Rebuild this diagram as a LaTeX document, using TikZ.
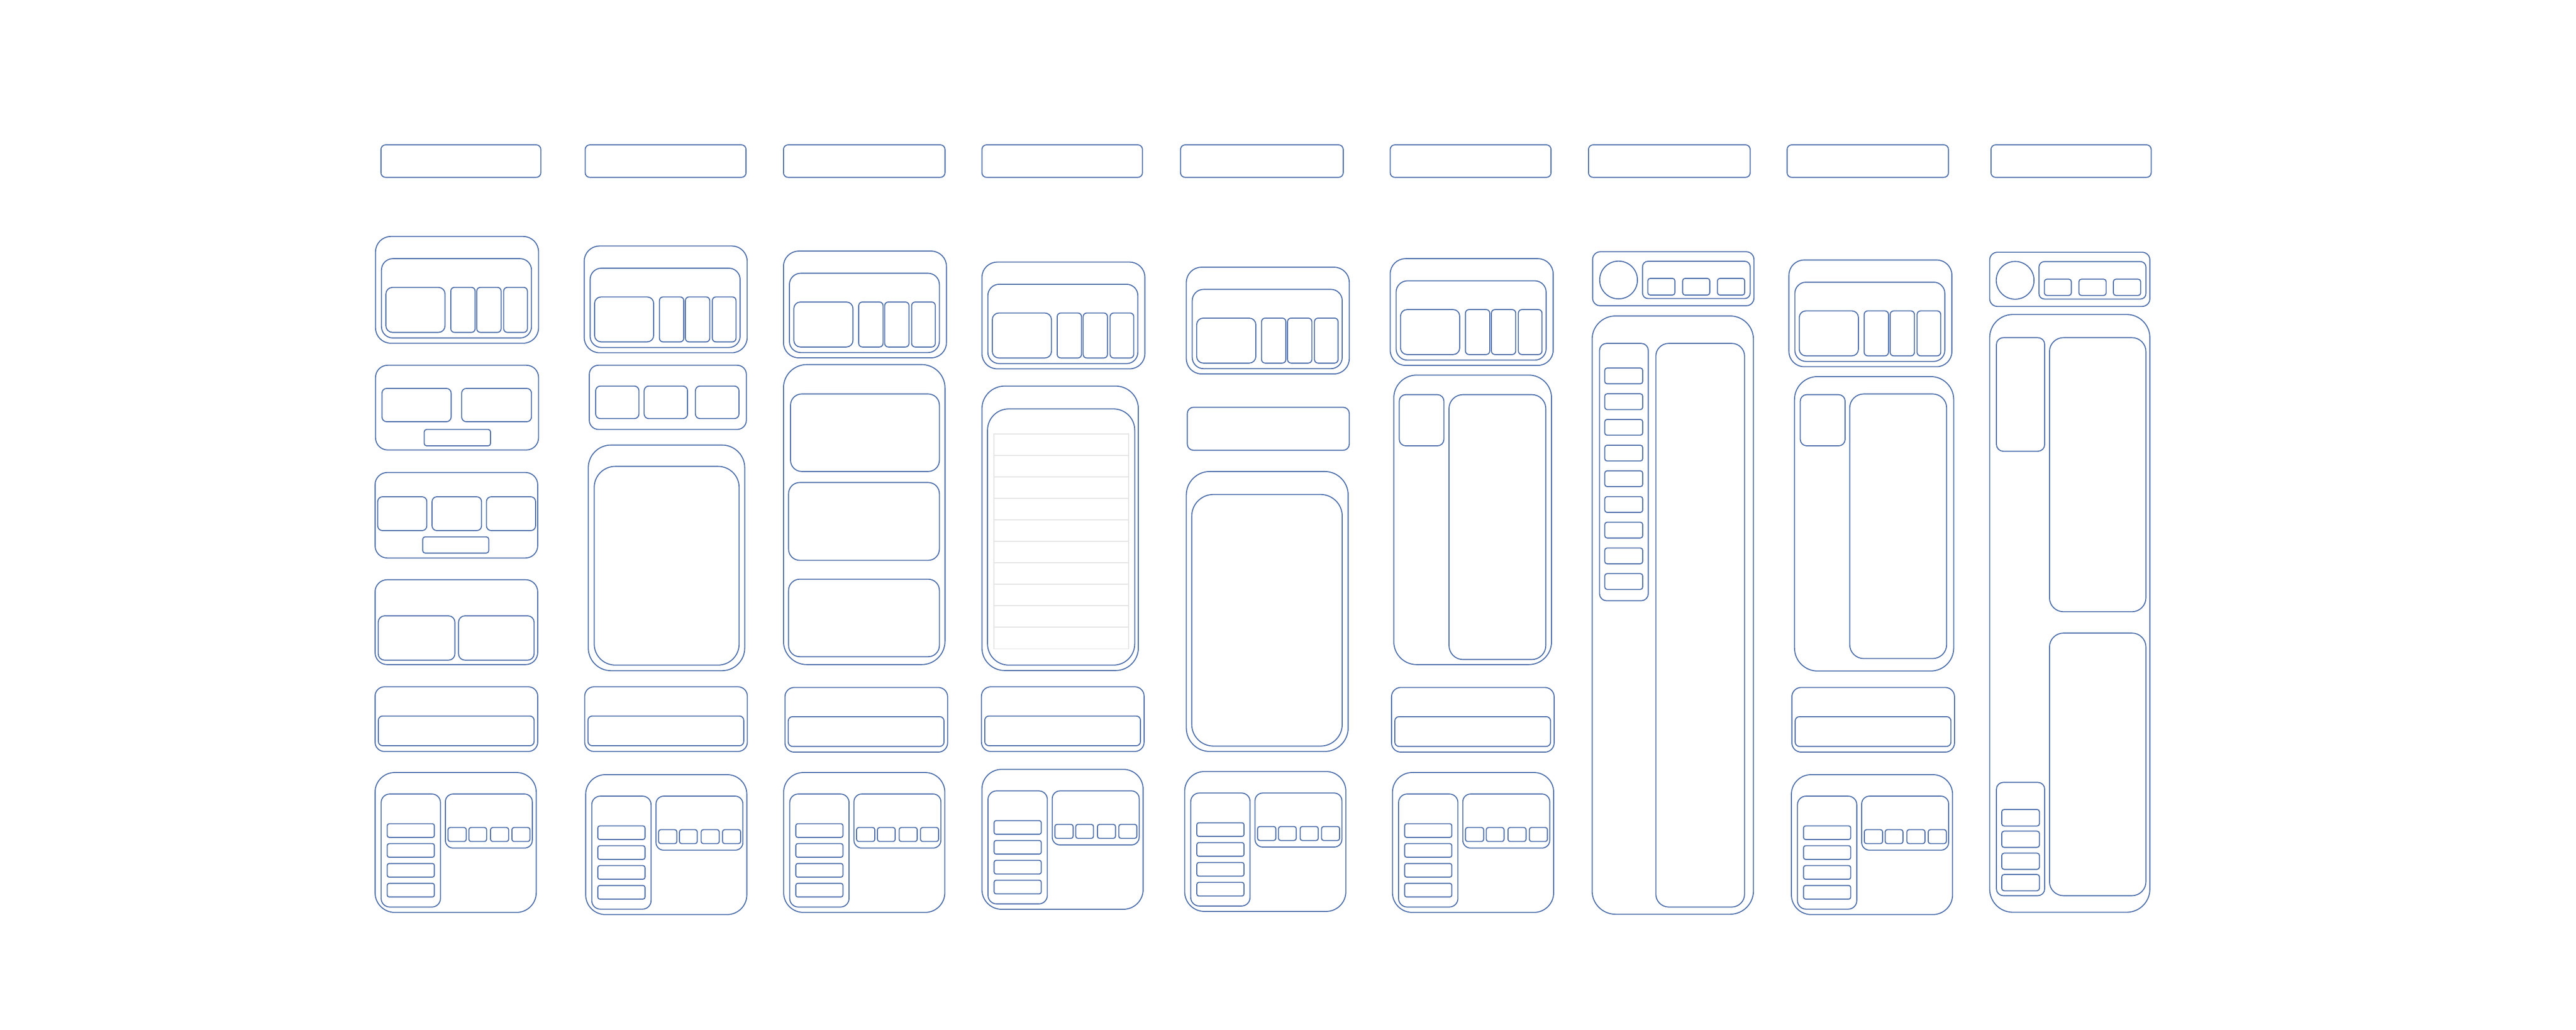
\documentclass[tikz,border=0pt]{standalone}
\definecolor{wireblue}{RGB}{72,106,168}
\definecolor{rowgray}{RGB}{228,228,228}
\begin{document}
\begin{tikzpicture}[x=1bp, y=-1bp,
  box/.style={draw=wireblue, line width=.6pt, rounded corners=#1bp},
  box/.default=2,
  row/.style={draw=rowgray, line width=.6pt}]
\useasboundingbox (0,0) rectangle (1568,627.2);

%%%%%% Top bars %%%%%%%

\draw[box=2.8] (231.9,88.2) rectangle (329.2,108);
\draw[box=2.8] (356.2,88.2) rectangle (454.1,108);
\draw[box=2.8] (476.9,88.2) rectangle (575.2,108);
\draw[box=2.8] (597.7,88.2) rectangle (695.4,108);
\draw[box=2.8] (718.6,88.2) rectangle (817.6,108);
\draw[box=2.8] (846.2,88.2) rectangle (944.1,108);
\draw[box=2.8] (966.9,88.2) rectangle (1065.3,108);
\draw[box=2.8] (1087.8,88.2) rectangle (1186,108);
\draw[box=2.8] (1211.9,88.2) rectangle (1309.4,108);

%%%%%% Column 1 %%%%%%%

\draw[box=9.3] (228.6,144) rectangle (327.8,209);
\draw[box=6.9] (232.2,157.5) rectangle (323.5,205.8);
\draw[box=4] (234.9,175) rectangle (270.9,202.4);
\draw[box=2.2] (274.4,175) rectangle (289.2,202.4);
\draw[box=2.2] (290.2,175) rectangle (305,202.4);
\draw[box=2.2] (306.6,175) rectangle (321,202.4);

\draw[box=7.4] (228.6,222.4) rectangle (327.8,274);
\draw[box=2.9] (232.5,236.5) rectangle (274.6,256.8);
\draw[box=2.9] (281,236.5) rectangle (323.5,256.8);
\draw[box=1.5] (258.2,261.5) rectangle (298.6,271.5);

\draw[box=7.5] (228.3,287.7) rectangle (327.3,339.8);
\draw[box=2.9] (229.9,302.5) rectangle (259.8,323.1);
\draw[box=2.9] (263,302.5) rectangle (293.1,323.1);
\draw[box=2.9] (296.1,302.5) rectangle (326,323.1);
\draw[box=1.5] (257.3,326.9) rectangle (297.5,336.8);

\draw[box=7.4] (228.3,353) rectangle (327.3,404.7);
\draw[box=3.9] (230.2,375) rectangle (276.9,402);
\draw[box=3.9] (279.1,375) rectangle (325.1,402);

\draw[box=5.7] (228.3,418.2) rectangle (327.3,457.6);
\draw[box=2.6] (230.3,436) rectangle (325.1,454.1);

\draw[box=12] (228.3,470.4) rectangle (326.4,555.6);
\draw[box=5.2] (232,483.5) rectangle (268.1,552.3);
\draw[box=1.2] (235.7,501.6) rectangle (264.4,509.9);
\draw[box=1.2] (235.7,513.7) rectangle (264.4,522);
\draw[box=1.2] (235.7,525.8) rectangle (264.4,534.1);
\draw[box=1.2] (235.7,537.9) rectangle (264.4,546.2);
\draw[box=4.7] (271.1,483.5) rectangle (324,516.4);
\draw[box=1.3] (272.7,503.9) rectangle (283.8,512.4);
\draw[box=1.3] (285.4,503.9) rectangle (296.2,512.4);
\draw[box=1.3] (298.6,503.9) rectangle (309.6,512.4);
\draw[box=1.3] (311.6,503.9) rectangle (322.6,512.4);

%%%%%% Column 2 %%%%%%%

\draw[box=9.3] (228.6+127,144+5.8) rectangle (327.8+127,209+5.8);
\draw[box=6.9] (232.2+127,157.5+5.8) rectangle (323.5+127,205.8+5.8);
\draw[box=4] (234.9+127,175+5.8) rectangle (270.9+127,202.4+5.8);
\draw[box=2.2] (274.4+127,175+5.8) rectangle (289.2+127,202.4+5.8);
\draw[box=2.2] (290.2+127,175+5.8) rectangle (305+127,202.4+5.8);
\draw[box=2.2] (306.6+127,175+5.8) rectangle (321+127,202.4+5.8);

\draw[box=5.6] (358.7,222.4) rectangle (454.3,261.5);
\draw[box=2.8] (362.6,235.1) rectangle (388.9,254.9);
\draw[box=2.8] (392.1,235.1) rectangle (418.5,254.9);
\draw[box=2.8] (423.3,235.1) rectangle (449.8,254.9);

\draw[box=13.8] (358.1,271) rectangle (453.3,408.4);
\draw[box=12.8] (361.7,284) rectangle (449.9,405);

\draw[box=5.7] (228.3+127.6,418.2) rectangle (327.3+127.6,457.6);
\draw[box=2.6] (230.3+127.6,436) rectangle (325.1+127.6,454.1);

\draw[box=12] (228.3+128.2,470.4+1.3) rectangle (326.4+128.2,555.6+1.3);
\draw[box=5.2] (232+128.2,483.5+1.3) rectangle (268.1+128.2,552.3+1.3);
\draw[box=1.2] (235.7+128.2,501.6+1.3) rectangle (264.4+128.2,509.9+1.3);
\draw[box=1.2] (235.7+128.2,513.7+1.3) rectangle (264.4+128.2,522+1.3);
\draw[box=1.2] (235.7+128.2,525.8+1.3) rectangle (264.4+128.2,534.1+1.3);
\draw[box=1.2] (235.7+128.2,537.9+1.3) rectangle (264.4+128.2,546.2+1.3);
\draw[box=4.7] (271.1+128.2,483.5+1.3) rectangle (324+128.2,516.4+1.3);
\draw[box=1.3] (272.7+128.2,503.9+1.3) rectangle (283.8+128.2,512.4+1.3);
\draw[box=1.3] (285.4+128.2,503.9+1.3) rectangle (296.2+128.2,512.4+1.3);
\draw[box=1.3] (298.6+128.2,503.9+1.3) rectangle (309.6+128.2,512.4+1.3);
\draw[box=1.3] (311.6+128.2,503.9+1.3) rectangle (322.6+128.2,512.4+1.3);

%%%%%% Column 3 %%%%%%%

\draw[box=9.3] (228.6+248.3,144+8.9) rectangle (327.8+248.3,209+8.9);
\draw[box=6.9] (232.2+248.3,157.5+8.9) rectangle (323.5+248.3,205.8+8.9);
\draw[box=4] (234.9+248.3,175+8.9) rectangle (270.9+248.3,202.4+8.9);
\draw[box=2.2] (274.4+248.3,175+8.9) rectangle (289.2+248.3,202.4+8.9);
\draw[box=2.2] (290.2+248.3,175+8.9) rectangle (305+248.3,202.4+8.9);
\draw[box=2.2] (306.6+248.3,175+8.9) rectangle (321+248.3,202.4+8.9);

\draw[box=14.2] (476.9,222) rectangle (575.2,404.7);
\draw[box=6.8] (481.2,239.9) rectangle (571.8,287.1);
\draw[box=6.8] (480,293.8) rectangle (571.8,341.2);
\draw[box=6.8] (480,352.7) rectangle (571.8,399.9);

\draw[box=5.7] (228.3+249.5,418.2+.4) rectangle (327.3+249.5,457.6+.4);
\draw[box=2.6] (230.3+249.5,436+.4) rectangle (325.1+249.5,454.1+.4);

\draw[box=12] (228.3+248.7,470.4) rectangle (326.4+248.7,555.6);
\draw[box=5.2] (232+248.7,483.5) rectangle (268.1+248.7,552.3);
\draw[box=1.2] (235.7+248.7,501.6) rectangle (264.4+248.7,509.9);
\draw[box=1.2] (235.7+248.7,513.7) rectangle (264.4+248.7,522);
\draw[box=1.2] (235.7+248.7,525.8) rectangle (264.4+248.7,534.1);
\draw[box=1.2] (235.7+248.7,537.9) rectangle (264.4+248.7,546.2);
\draw[box=4.7] (271.1+248.7,483.5) rectangle (324+248.7,516.4);
\draw[box=1.3] (272.7+248.7,503.9) rectangle (283.8+248.7,512.4);
\draw[box=1.3] (285.4+248.7,503.9) rectangle (296.2+248.7,512.4);
\draw[box=1.3] (298.6+248.7,503.9) rectangle (309.6+248.7,512.4);
\draw[box=1.3] (311.6+248.7,503.9) rectangle (322.6+248.7,512.4);

%%%%%% Column 4 %%%%%%%

\draw[box=9.3] (228.6+369.1,144+15.6) rectangle (327.8+369.1,209+15.6);
\draw[box=6.9] (232.2+369.1,157.5+15.6) rectangle (323.5+369.1,205.8+15.6);
\draw[box=4] (234.9+369.1,175+15.6) rectangle (270.9+369.1,202.4+15.6);
\draw[box=2.2] (274.4+369.1,175+15.6) rectangle (289.2+369.1,202.4+15.6);
\draw[box=2.2] (290.2+369.1,175+15.6) rectangle (305+369.1,202.4+15.6);
\draw[box=2.2] (306.6+369.1,175+15.6) rectangle (321+369.1,202.4+15.6);

\draw[box=13.8] (597.7,235.1) rectangle (692.9,408.3);
\draw[box=12.9] (601.1,249) rectangle (690.7,405);
\draw[row] (605.1,264.2) rectangle (686.9,395.1);
\draw[row] (605.1,277.3) -- (686.9,277.3);
\draw[row] (605.1,290.4) -- (686.9,290.4);
\draw[row] (605.1,303.5) -- (686.9,303.5);
\draw[row] (605.1,316.6) -- (686.9,316.6);
\draw[row] (605.1,329.7) -- (686.9,329.7);
\draw[row] (605.1,342.7) -- (686.9,342.7);
\draw[row] (605.1,355.8) -- (686.9,355.8);
\draw[row] (605.1,368.9) -- (686.9,368.9);
\draw[row] (605.1,382) -- (686.9,382);

\draw[box=5.7] (228.3+369.1,418.2) rectangle (327.3+369.1,457.6);
\draw[box=2.6] (230.3+369.1,436) rectangle (325.1+369.1,454.1);

\draw[box=12] (228.3+369.4,470.4-1.9) rectangle (326.4+369.4,555.6-1.9);
\draw[box=5.2] (232+369.4,483.5-1.9) rectangle (268.1+369.4,552.3-1.9);
\draw[box=1.2] (235.7+369.4,501.6-1.9) rectangle (264.4+369.4,509.9-1.9);
\draw[box=1.2] (235.7+369.4,513.7-1.9) rectangle (264.4+369.4,522-1.9);
\draw[box=1.2] (235.7+369.4,525.8-1.9) rectangle (264.4+369.4,534.1-1.9);
\draw[box=1.2] (235.7+369.4,537.9-1.9) rectangle (264.4+369.4,546.2-1.9);
\draw[box=4.7] (271.1+369.4,483.5-1.9) rectangle (324+369.4,516.4-1.9);
\draw[box=1.3] (272.7+369.4,503.9-1.9) rectangle (283.8+369.4,512.4-1.9);
\draw[box=1.3] (285.4+369.4,503.9-1.9) rectangle (296.2+369.4,512.4-1.9);
\draw[box=1.3] (298.6+369.4,503.9-1.9) rectangle (309.6+369.4,512.4-1.9);
\draw[box=1.3] (311.6+369.4,503.9-1.9) rectangle (322.6+369.4,512.4-1.9);

%%%%%% Column 5 %%%%%%%

\draw[box=9.3] (228.6+493.5,144+18.7) rectangle (327.8+493.5,209+18.7);
\draw[box=6.9] (232.2+493.5,157.5+18.7) rectangle (323.5+493.5,205.8+18.7);
\draw[box=4] (234.9+493.5,175+18.7) rectangle (270.9+493.5,202.4+18.7);
\draw[box=2.2] (274.4+493.5,175+18.7) rectangle (289.2+493.5,202.4+18.7);
\draw[box=2.2] (290.2+493.5,175+18.7) rectangle (305+493.5,202.4+18.7);
\draw[box=2.2] (306.6+493.5,175+18.7) rectangle (321+493.5,202.4+18.7);

\draw[box=3.8] (722.7,248) rectangle (821.3,274.2);

\draw[box=14.3] (722.1,287.1) rectangle (820.6,457.6);
\draw[box=13.2] (725.4,301.1) rectangle (817,454.3);

\draw[box=12] (228.3+492.8,470.4-.6) rectangle (326.4+492.8,555.6-.6);
\draw[box=5.2] (232+492.8,483.5-.6) rectangle (268.1+492.8,552.3-.6);
\draw[box=1.2] (235.7+492.8,501.6-.6) rectangle (264.4+492.8,509.9-.6);
\draw[box=1.2] (235.7+492.8,513.7-.6) rectangle (264.4+492.8,522-.6);
\draw[box=1.2] (235.7+492.8,525.8-.6) rectangle (264.4+492.8,534.1-.6);
\draw[box=1.2] (235.7+492.8,537.9-.6) rectangle (264.4+492.8,546.2-.6);
\draw[box=4.7] (271.1+492.8,483.5-.6) rectangle (324+492.8,516.4-.6);
\draw[box=1.3] (272.7+492.8,503.9-.6) rectangle (283.8+492.8,512.4-.6);
\draw[box=1.3] (285.4+492.8,503.9-.6) rectangle (296.2+492.8,512.4-.6);
\draw[box=1.3] (298.6+492.8,503.9-.6) rectangle (309.6+492.8,512.4-.6);
\draw[box=1.3] (311.6+492.8,503.9-.6) rectangle (322.6+492.8,512.4-.6);

%%%%%% Column 6 %%%%%%%

\draw[box=9.3] (228.6+617.6,144+13.5) rectangle (327.8+617.6,209+13.5);
\draw[box=6.9] (232.2+617.6,157.5+13.5) rectangle (323.5+617.6,205.8+13.5);
\draw[box=4] (234.9+617.6,175+13.5) rectangle (270.9+617.6,202.4+13.5);
\draw[box=2.2] (274.4+617.6,175+13.5) rectangle (289.2+617.6,202.4+13.5);
\draw[box=2.2] (290.2+617.6,175+13.5) rectangle (305+617.6,202.4+13.5);
\draw[box=2.2] (306.6+617.6,175+13.5) rectangle (321+617.6,202.4+13.5);

\draw[box=13.9] (848.4,228.4) rectangle (944.4,404.7);
\draw[box=4] (851.7,240.3) rectangle (878.9,271.5);
\draw[box=8.5] (882,240.3) rectangle (940.9,401.6);

\draw[box=5.7] (228.3+618.7,418.2+.4) rectangle (327.3+618.7,457.6+.4);
\draw[box=2.6] (230.3+618.7,436+.4) rectangle (325.1+618.7,454.1+.4);

\draw[box=12] (228.3+619.3,470.4) rectangle (326.4+619.3,555.6);
\draw[box=5.2] (232+619.3,483.5) rectangle (268.1+619.3,552.3);
\draw[box=1.2] (235.7+619.3,501.6) rectangle (264.4+619.3,509.9);
\draw[box=1.2] (235.7+619.3,513.7) rectangle (264.4+619.3,522);
\draw[box=1.2] (235.7+619.3,525.8) rectangle (264.4+619.3,534.1);
\draw[box=1.2] (235.7+619.3,537.9) rectangle (264.4+619.3,546.2);
\draw[box=4.7] (271.1+619.3,483.5) rectangle (324+619.3,516.4);
\draw[box=1.3] (272.7+619.3,503.9) rectangle (283.8+619.3,512.4);
\draw[box=1.3] (285.4+619.3,503.9) rectangle (296.2+619.3,512.4);
\draw[box=1.3] (298.6+619.3,503.9) rectangle (309.6+619.3,512.4);
\draw[box=1.3] (311.6+619.3,503.9) rectangle (322.6+619.3,512.4);

%%%%%% Column 7 %%%%%%%

\draw[box=4.7] (969.4,153.3) rectangle (1067.6,186.2);
\draw[box] (985.2,170.5) circle[radius=11.5bp];
\draw[box=3.3] (999.8,159.1) rectangle (1065.3,181.8);
\draw[box=1.5] (1003,169.5) rectangle (1019.5,179.7);
\draw[box=1.5] (1024.2,169.5) rectangle (1040.7,179.7);
\draw[box=1.5] (1045.4,169.5) rectangle (1062,179.7);

\draw[box=14.2] (969.1,192.4) rectangle (1067.3,556.7);
\draw[box=4.3] (973.6,209.1) rectangle (1003.3,365.8);
\draw[box=1.4] (976.8,224.1) rectangle (999.9,233.7);
\draw[box=1.4] (976.8,239.8) rectangle (999.9,249.4);
\draw[box=1.4] (976.8,255.4) rectangle (999.9,265);
\draw[box=1.4] (976.8,271.1) rectangle (999.9,280.7);
\draw[box=1.4] (976.8,286.7) rectangle (999.9,296.3);
\draw[box=1.4] (976.8,302.4) rectangle (999.9,312);
\draw[box=1.4] (976.8,318) rectangle (999.9,327.6);
\draw[box=1.4] (976.8,333.7) rectangle (999.9,343.3);
\draw[box=1.4] (976.8,349.3) rectangle (999.9,358.9);
\draw[box=7.8] (1007.9,209.1) rectangle (1061.9,552.3);

%%%%%% Column 8 %%%%%%%

\draw[box=9.3] (228.6+860.3,144+14.3) rectangle (327.8+860.3,209+14.3);
\draw[box=6.9] (232.2+860.3,157.5+14.3) rectangle (323.5+860.3,205.8+14.3);
\draw[box=4] (234.9+860.3,175+14.3) rectangle (270.9+860.3,202.4+14.3);
\draw[box=2.2] (274.4+860.3,175+14.3) rectangle (289.2+860.3,202.4+14.3);
\draw[box=2.2] (290.2+860.3,175+14.3) rectangle (305+860.3,202.4+14.3);
\draw[box=2.2] (306.6+860.3,175+14.3) rectangle (321+860.3,202.4+14.3);

\draw[box=14] (1092.3,229.3) rectangle (1189.2,408.6);
\draw[box=4] (1095.8,240.3) rectangle (1123.1,271.5);
\draw[box=8.5] (1125.9,239.9) rectangle (1184.9,401);

\draw[box=5.7] (228.3+862.4,418.2+.4) rectangle (327.3+862.4,457.6+.4);
\draw[box=2.6] (230.3+862.4,436+.4) rectangle (325.1+862.4,454.1+.4);

\draw[box=12] (228.3+862.1,470.4+1.3) rectangle (326.4+862.1,555.6+1.3);
\draw[box=5.2] (232+862.1,483.5+1.3) rectangle (268.1+862.1,552.3+1.3);
\draw[box=1.2] (235.7+862.1,501.6+1.3) rectangle (264.4+862.1,509.9+1.3);
\draw[box=1.2] (235.7+862.1,513.7+1.3) rectangle (264.4+862.1,522+1.3);
\draw[box=1.2] (235.7+862.1,525.8+1.3) rectangle (264.4+862.1,534.1+1.3);
\draw[box=1.2] (235.7+862.1,537.9+1.3) rectangle (264.4+862.1,546.2+1.3);
\draw[box=4.7] (271.1+862.1,483.5+1.3) rectangle (324+862.1,516.4+1.3);
\draw[box=1.3] (272.7+862.1,503.9+1.3) rectangle (283.8+862.1,512.4+1.3);
\draw[box=1.3] (285.4+862.1,503.9+1.3) rectangle (296.2+862.1,512.4+1.3);
\draw[box=1.3] (298.6+862.1,503.9+1.3) rectangle (309.6+862.1,512.4+1.3);
\draw[box=1.3] (311.6+862.1,503.9+1.3) rectangle (322.6+862.1,512.4+1.3);

%%%%%% Column 9 %%%%%%%

\draw[box=4.7] (1211.1,153.6) rectangle (1308.6,186.6);
\draw[box] (1226.6,170.7) circle[radius=11.5bp];
\draw[box=3.3] (1241.1,159.3) rectangle (1306.2,182.1);
\draw[box=1.5] (1244.4,170) rectangle (1260.8,179.9);
\draw[box=1.5] (1265.4,170) rectangle (1282,179.9);
\draw[box=1.5] (1286.4,170) rectangle (1303,179.9);

\draw[box=14.1] (1211.1,191.5) rectangle (1308.6,555.5);
\draw[box=4.2] (1215.2,205.6) rectangle (1244.6,274.8);
\draw[box=8.5] (1247.5,205.6) rectangle (1306.2,372.5);
\draw[box=8.5] (1247.5,385.5) rectangle (1306.2,545.4);
\draw[box=4.2] (1215.2,476.4) rectangle (1244.6,545.4);
\draw[box=1.5] (1218.4,492.9) rectangle (1241.4,503);
\draw[box=1.5] (1218.4,506.1) rectangle (1241.4,516);
\draw[box=1.5] (1218.4,519.5) rectangle (1241.4,529.4);
\draw[box=1.5] (1218.4,532.5) rectangle (1241.4,542.4);

\end{tikzpicture}
\end{document}
